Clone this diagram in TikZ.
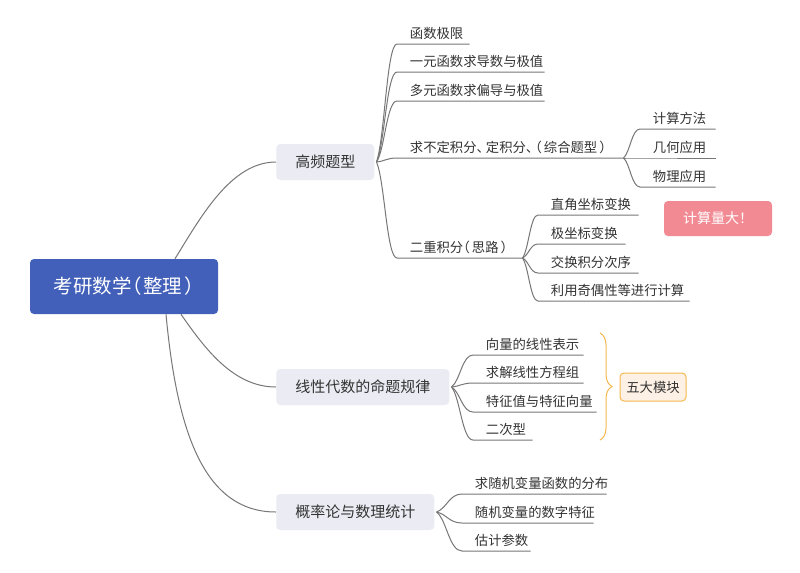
\documentclass[tikz,border=0pt]{standalone}
\usepackage{fontspec}
\setmainfont{Noto Sans CJK SC}
\newfontfamily\hw[RawFeature=+halt]{Noto Sans CJK SC}
\usetikzlibrary{calc,decorations.pathreplacing}
\definecolor{rootblue}{HTML}{4260B9}
\definecolor{lvlfill}{HTML}{EBECF3}
\definecolor{txt}{HTML}{333333}
\definecolor{linegray}{HTML}{777777}
\definecolor{notepink}{HTML}{F28A94}
\definecolor{braceorange}{HTML}{F5B94F}
\definecolor{notefill}{HTML}{FDF0E4}
\tikzset{
 conn/.style={draw=linegray, line width=0.75pt},
 rootbox/.style={fill=rootblue, rounded corners=3pt, text=white, font=\fontsize{14.6pt}{17pt}\selectfont\hw, minimum width=141pt, minimum height=41.25pt, inner sep=0pt, text height=12.85pt, text depth=1.75pt},
 topic/.style={fill=lvlfill, rounded corners=3pt, text=txt, font=\fontsize{11.25pt}{13pt}\selectfont, minimum height=27pt, inner xsep=14.25pt, inner ysep=0pt, text height=9.9pt, text depth=1.35pt, anchor=west},
 leaf/.style={anchor=south west, text=txt, font=\fontsize{10pt}{12pt}\selectfont, inner xsep=9.5pt, inner ysep=2.7pt, text height=8.8pt, text depth=1.2pt, align=left},
 notebox/.style={fill=notepink, rounded corners=3pt, text=white, font=\fontsize{10.5pt}{12pt}\selectfont, minimum width=81pt, minimum height=26.25pt, inner sep=0pt, text height=9.2pt, text depth=1.3pt},
 modbox/.style={fill=notefill, draw=braceorange, line width=0.75pt, rounded corners=3pt, text=txt, font=\fontsize{10pt}{12pt}\selectfont, minimum width=49.5pt, minimum height=21pt, inner sep=0pt, text height=8.8pt, text depth=1.2pt},
}
\newcommand\leafnode[5]{%
 \pgfmathsetlengthmacro\leafw{(#4-#2)*0.75pt-19pt}%
 \node[leaf, text width=\leafw] (#1) at (#2,#3) {\mbox{#5}};}
\newcommand\leafconn[5]{%
 \draw[conn] let \p1=(#1), \p2=(#2.south west) in (\p1) .. controls ({\x1+#3*(\x2-\x1)},{\y1+#4*(\y2-\y1)}) and ({\x1+#5*(\x2-\x1)},\y2) .. (\p2) -- (#2.south east);}
\newcommand\topicconn[5]{%
 \draw[conn] let \p1=(#1), \p2=(#2.west) in (\p1) .. controls ({\x1+#3*(\x2-\x1)},{\y1+#4*(\y2-\y1)}) and ({\x1+#5*(\x2-\x1)},\y2) .. (\p2);}
\begin{document}
\begin{tikzpicture}[x=0.75pt,y=-0.75pt]
\fill[white] (0,0) rectangle (800,572);
\useasboundingbox (0,0) rectangle (800,572);
% root and topics
\node[rootbox] (root) at (124,286.5) {考研数学（\kern1.5pt 整理\kern1.5pt ）};
\node[topic] (high) at (276,162) {高频题型};
\node[topic] (lin) at (276,387) {线性代数的命题规律};
\node[topic] (prob) at (276,512) {概率论与数理统计};
% leaves of 高频题型
\leafnode{h1}{397}{44}{469}{函数极限}
\leafnode{h2}{397}{72}{544}{一元函数求导数与极值}
\leafnode{h3}{397}{101}{544}{多元函数求偏导与极值}
\leafnode{h4}{397}{158}{623}{\hw 求不定积分、\kern2pt 定积分、\kern2pt （\kern1.5pt 综合题型\kern1.5pt ）}
\leafnode{h5}{397}{258}{522}{\hw 二重积分（\kern1.5pt 思路\kern1.5pt ）}
\leafnode{c1}{640}{129}{715}{计算方法}
\leafnode{c2}{640}{158}{715}{几何应用}
\leafnode{c3}{640}{187}{715}{物理应用}
\leafnode{d1}{538}{215}{638}{直角坐标变换}
\leafnode{d2}{538}{244}{625}{极坐标变换}
\leafnode{d3}{538}{273}{638}{交换积分次序}
\leafnode{d4}{538}{301}{689}{利用奇偶性等进行计算}
% leaves of 线性代数
\leafnode{l1}{473}{355}{583}{向量的线性表示}
\leafnode{l2}{473}{383}{583}{求解线性方程组}
\leafnode{l3}{473}{412}{596}{特征值与特征向量}
\leafnode{l4}{473}{440}{532}{二次型}
% leaves of 概率论
\leafnode{p1}{462}{494}{606}{求随机变量函数的分布}
\leafnode{p2}{462}{523}{593}{随机变量的数字特征}
\leafnode{p3}{462}{551}{530}{估计参数}
% notes
\node[notebox] (big) at (718,218.5) {计算量大！};
\node[modbox] (five) at (653,387) {五大模块};
\coordinate (bt) at (600,333);
\coordinate (bb) at (600,440);
\draw[braceorange, line width=0.75pt, decorate, decoration={brace, amplitude=9pt}] (bt) -- (bb);
% junctions
\coordinate (r1) at ($(root.north)+(51,0)$);
\coordinate (r2) at ($(root.south)+(57,0)$);
\coordinate (r3) at ($(root.south)+(42,0)$);
\coordinate (jh) at ($(high.east)+(2,0)$);
\coordinate (jl) at ($(lin.east)+(2,0)$);
\coordinate (jp) at ($(prob.east)+(2,0)$);
% connectors
\topicconn{r1}{high}{0.25}{0.42}{0.55}
\topicconn{r2}{lin}{0.25}{0.47}{0.55}
\topicconn{r3}{prob}{0.1}{0.6}{0.35}
\foreach \lf in {h1,h2,h3,h4,h5}{\leafconn{jh}{\lf}{0.4}{0.2}{0.5}}
\foreach \lf in {c1,c2,c3}{\leafconn{h4.south east}{\lf}{0.4}{0.2}{0.5}}
\foreach \lf in {d1,d2,d3,d4}{\leafconn{h5.south east}{\lf}{0.4}{0.2}{0.5}}
\foreach \lf in {l1,l2,l3,l4}{\leafconn{jl}{\lf}{0.4}{0.2}{0.5}}
\foreach \lf in {p1,p2,p3}{\leafconn{jp}{\lf}{0.4}{0.2}{0.5}}
\end{tikzpicture}
\end{document}
